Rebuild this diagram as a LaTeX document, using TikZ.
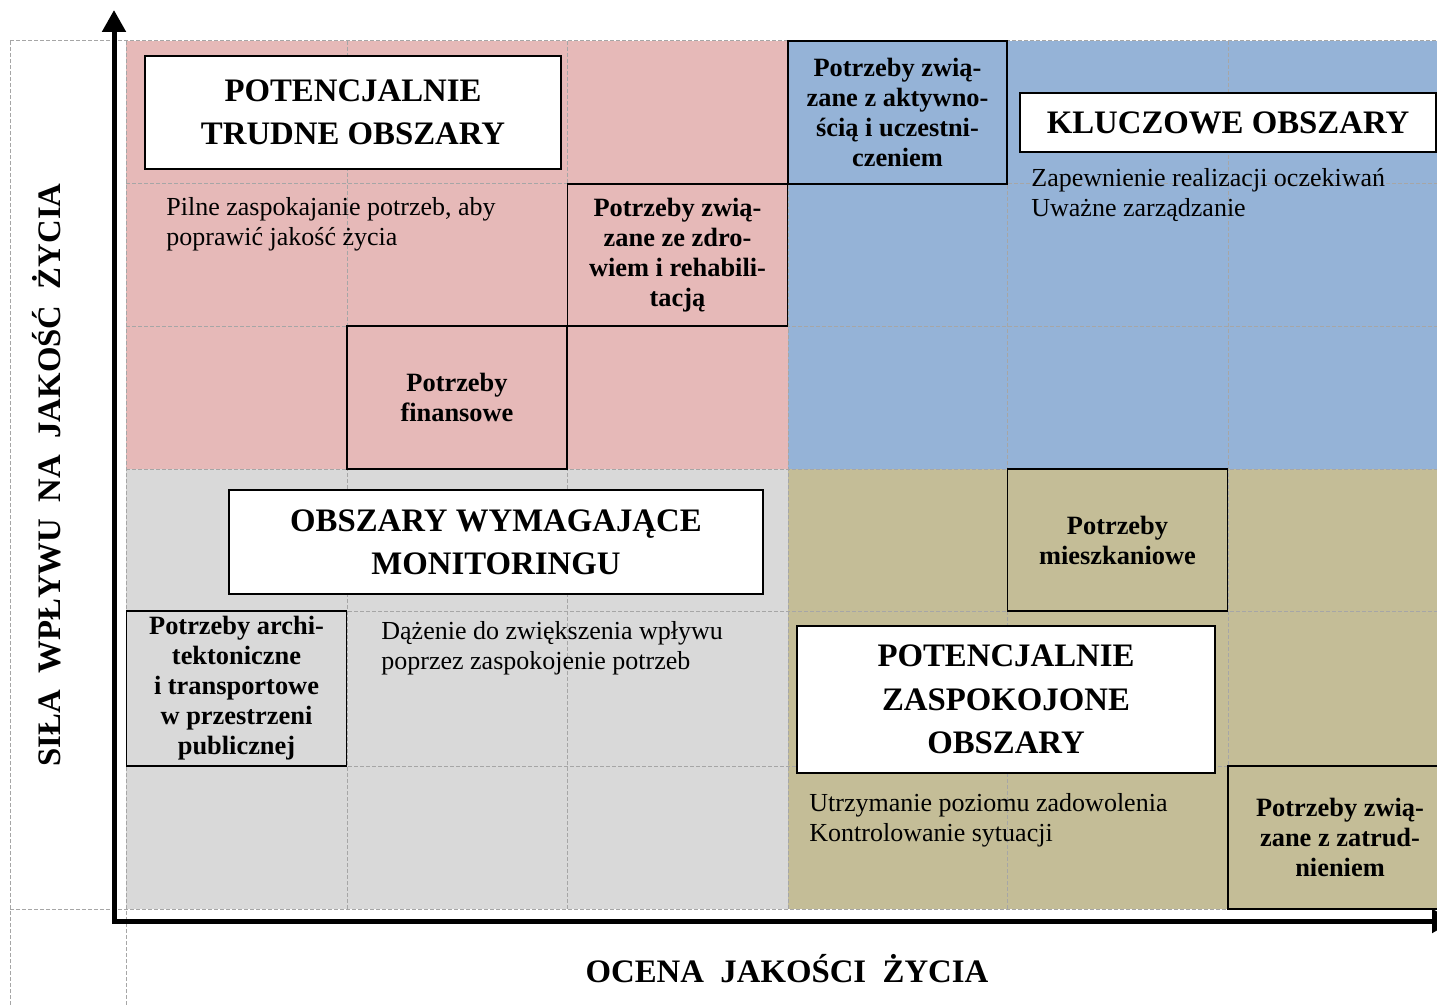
\documentclass[tikz,border=0pt]{standalone}
\usepackage{fontspec}
\setmainfont{Liberation Serif}
\usetikzlibrary{arrows.meta}
\definecolor{pinkq}{HTML}{E6B9B8}
\definecolor{blueq}{HTML}{95B3D7}
\definecolor{tanq}{HTML}{C4BD97}
\definecolor{grayq}{HTML}{D9D9D9}
\definecolor{gridq}{HTML}{A6A6A6}

\begin{document}
\begin{tikzpicture}[x=0.5pt, y=-0.5pt,
        need/.style = {draw, line width=0.7pt, align=center, inner sep=0pt, minimum width=110pt, minimum height=71.5pt, font=\bfseries\fontsize{13.2}{15}\selectfont},
        title/.style = {draw, fill=white, line width=0.7pt, align=center, inner sep=0pt, font=\bfseries\fontsize{16.4}{21.5}\selectfont},
        desc/.style = {anchor=north west, align=left, inner sep=0pt, font=\fontsize{13}{15}\selectfont},
        gridline/.style = {gridq, line width=0.5pt, dash pattern=on 2pt off 1pt},
        axis/.style = {line width=2.5pt, line join=miter}]
        \useasboundingbox (0,0) rectangle (1437,1006);

        % quadrants
        \fill[pinkq] (126,41) rectangle (788,469);
        \fill[blueq] (788,41) rectangle (1437,469);
        \fill[grayq] (126,469) rectangle (788,909);
        \fill[tanq] (788,469) rectangle (1437,909);

        \foreach \x in {347,567,788,1007,1228}
            \draw[gridline] (\x,41) -- (\x,909);
        \foreach \y in {184,326,469,611,766}
            \draw[gridline] (126,\y) -- (1437,\y);
        \draw[gridline] (10,41) -- (1437,41);
        \draw[gridline] (10,909) -- (1437,909);
        \draw[gridline] (10,41) -- (10,1006);
        \draw[gridline] (126,41) -- (126,1006);

        % needs
        \node[need, fill=blueq, minimum width=109.5pt] (akt) at (897.5,112.5) {Potrzeby zwią-\\zane z aktywno-\\ścią i uczestni-\\czeniem};
        \node[need, fill=pinkq, minimum height=71pt] (zdr) at (677.5,255) {Potrzeby zwią-\\zane ze zdro-\\wiem i rehabili-\\tacją};
        \node[need, fill=pinkq] (fin) at (457,397.5) {Potrzeby\\finansowe};
        \node[need, fill=tanq, minimum height=71pt] (mie) at (1117.5,540) {Potrzeby\\mieszkaniowe};
        \node[need, fill=grayq, minimum height=77.5pt] (arch) at (236.5,688.5) {Potrzeby archi-\\tektoniczne\\i transportowe\\w przestrzeni\\publicznej};
        \node[need, fill=tanq, minimum width=112pt] (zat) at (1340,837.5) {Potrzeby zwią-\\zane z zatrud-\\nieniem};

        % areas
        \node[title, minimum width=208pt, minimum height=56.5pt] (trudne) at (353,112.5) {POTENCJALNIE\\TRUDNE OBSZARY};
        \node[title, minimum width=208pt, minimum height=29.5pt] (klucz) at (1228,122.5) {KLUCZOWE OBSZARY};
        \node[title, minimum width=267pt, minimum height=52pt] (monit) at (496,542) {OBSZARY WYMAGAJĄCE\\MONITORINGU};
        \node[title, minimum width=209pt, minimum height=73.5pt, font=\bfseries\fontsize{16.4}{21.75}\selectfont] (zasp) at (1006,699.5) {POTENCJALNIE\\ZASPOKOJONE\\OBSZARY};

        \node[desc] (trudneOpis) at (166,197) {Pilne zaspokajanie potrzeb, aby\\poprawić jakość życia};
        \node[desc] (kluczOpis) at (1031,168) {Zapewnienie realizacji oczekiwań\\Uważne zarządzanie};
        \node[desc] (monitOpis) at (381,621) {Dążenie do zwiększenia wpływu\\poprzez zaspokojenie potrzeb};
        \node[desc] (zaspOpis) at (809,793) {Utrzymanie poziomu zadowolenia\\Kontrolowanie sytuacji};

        % axes
        \coordinate (origin) at (114,921);
        \coordinate (ytop) at (114,10);
        \coordinate (xend) at (1454,921);
        \draw[axis, {Triangle[width=11.5pt, length=11pt]}-{Triangle[width=11.5pt, length=11pt]}] (ytop) -- (origin) -- (xend);

        \node[anchor=base, font=\bfseries\fontsize{16.4}{20}\selectfont] (xlab) at (787,982) {OCENA\ \ JAKOŚCI\ \ ŻYCIA};
        \node[anchor=base, rotate=90, font=\bfseries\fontsize{16.4}{20}\selectfont] (ylab) at (61,475) {SIŁA\ \ WPŁYWU\ \ NA\ \ JAKOŚĆ\ \ ŻYCIA};

    \end{tikzpicture}
\end{document}
